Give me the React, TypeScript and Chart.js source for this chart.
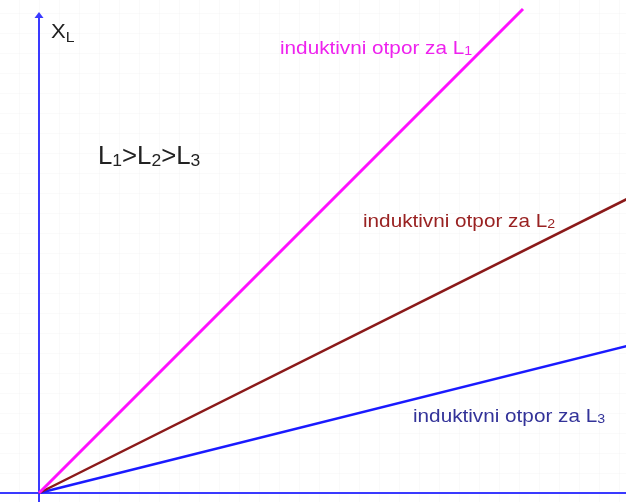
import React, { useEffect, useRef } from "react";
import { Chart, registerables } from "chart.js";

Chart.register(...registerables);

const frequencyL1 = [0, 484];
const frequency = [0, 600];
const xlL1 = [0, 484];
const xlL2 = [0, 300];
const xlL3 = [0, 150];
const seriesNames = ["induktivni otpor za L", "induktivni otpor za L", "induktivni otpor za L"];
const seriesSubs = ["1", "2", "3"];

type Seg = { t: string; sub?: boolean };

function drawRich(ctx: CanvasRenderingContext2D, segs: Seg[], x: number, y: number, size: number, subSize: number, subDrop: number, color: string, stretch = 1) {
  ctx.save();
  ctx.translate(x, y);
  ctx.scale(stretch, 1);
  ctx.fillStyle = color;
  ctx.textBaseline = "alphabetic";
  ctx.textAlign = "left";
  let cx = 0;
  for (const s of segs) {
    const fs = s.sub ? subSize : size;
    ctx.font = `${fs}px "Liberation Sans", Arial, sans-serif`;
    ctx.fillText(s.t, cx, s.sub ? subDrop : 0);
    cx += ctx.measureText(s.t).width;
  }
  ctx.restore();
}

const overlay = {
  id: "overlay",
  beforeDatasetsDraw(chart: any) {
    const ctx = chart.ctx as CanvasRenderingContext2D;
    const xs = chart.scales.x;
    const ys = chart.scales.y;
    const { left, right, top, bottom } = chart.chartArea;
    ctx.save();
    ctx.strokeStyle = "rgba(0,0,0,0.018)";
    ctx.lineWidth = 1;
    for (let v = -20; v <= 600; v += 20) {
      const px = Math.round(xs.getPixelForValue(v)) + 0.5;
      ctx.beginPath(); ctx.moveTo(px, top); ctx.lineTo(px, bottom); ctx.stroke();
    }
    for (let v = 0; v <= 500; v += 20) {
      const py = Math.round(ys.getPixelForValue(v)) + 0.5;
      ctx.beginPath(); ctx.moveTo(left, py); ctx.lineTo(right, py); ctx.stroke();
    }
    const ox = xs.getPixelForValue(0);
    const oy = ys.getPixelForValue(0);
    ctx.strokeStyle = "#3a3aff";
    ctx.fillStyle = "#3a3aff";
    ctx.lineWidth = 2;
    ctx.beginPath(); ctx.moveTo(left, oy); ctx.lineTo(right, oy); ctx.stroke();
    const tipY = ys.getPixelForValue(481);
    ctx.beginPath(); ctx.moveTo(ox, bottom); ctx.lineTo(ox, tipY + 4); ctx.stroke();
    ctx.beginPath();
    ctx.moveTo(ox, tipY);
    ctx.lineTo(ox - 4.5, tipY + 6);
    ctx.lineTo(ox + 4.5, tipY + 6);
    ctx.closePath();
    ctx.fill();
    ctx.restore();
  },
  afterDatasetsDraw(chart: any) {
    const ctx = chart.ctx as CanvasRenderingContext2D;
    const xs = chart.scales.x;
    const ys = chart.scales.y;
    const P = (x: number, y: number) => [xs.getPixelForValue(x), ys.getPixelForValue(y)];
    let [x, y] = P(12, 455);
    drawRich(ctx, [{ t: "X" }, { t: "L", sub: true }], x, y, 21, 15, 4, "#222222", 1.05);
    [x, y] = P(59, 329);
    drawRich(ctx, [{ t: "L" }, { t: "1", sub: true }, { t: ">L" }, { t: "2", sub: true }, { t: ">L" }, { t: "3", sub: true }], x, y, 25, 17, 2, "#222222", 1.03);
    const labelPos = [[241, 439], [324, 266], [374, 71]];
    const labelColors = ["#ee22ee", "#992222", "#333399"];
    for (let i = 0; i < 3; i++) {
      [x, y] = P(labelPos[i][0], labelPos[i][1]);
      drawRich(ctx, [{ t: seriesNames[i] }, { t: seriesSubs[i], sub: true }], x, y, 19, 13, 1, labelColors[i], 1.09);
    }
  },
};

export default function App() {
  const ref = useRef<HTMLCanvasElement>(null);
  useEffect(() => {
    const mk = (xs: number[], d: number[]) => xs.map((f, i) => ({ x: f, y: d[i] }));
    const chart = new Chart(ref.current!, {
      type: "scatter",
      data: {
        datasets: [
          { data: mk(frequencyL1, xlL1), borderColor: "#ff11ff", showLine: true, pointRadius: 0, borderWidth: 3 },
          { data: mk(frequency, xlL2), borderColor: "#8b1a1a", showLine: true, pointRadius: 0, borderWidth: 2.5 },
          { data: mk(frequency, xlL3), borderColor: "#1a1aff", showLine: true, pointRadius: 0, borderWidth: 2.5 },
        ],
      },
      options: {
        animation: false,
        responsive: false,
        maintainAspectRatio: false,
        layout: { padding: 0 },
        plugins: { legend: { display: false }, tooltip: { enabled: false }, title: { display: false } },
        scales: {
          x: { type: "linear", min: -39, max: 587, display: false },
          y: { type: "linear", min: -9, max: 493, display: false },
        },
      },
      plugins: [overlay],
    });
    return () => chart.destroy();
  }, []);
  return (
    <div style={{ position: "fixed", left: 0, top: 0, width: 626, height: 502, background: "#fff" }}>
      <canvas ref={ref} width={626} height={502} style={{ width: 626, height: 502 }} />
    </div>
  );
}
